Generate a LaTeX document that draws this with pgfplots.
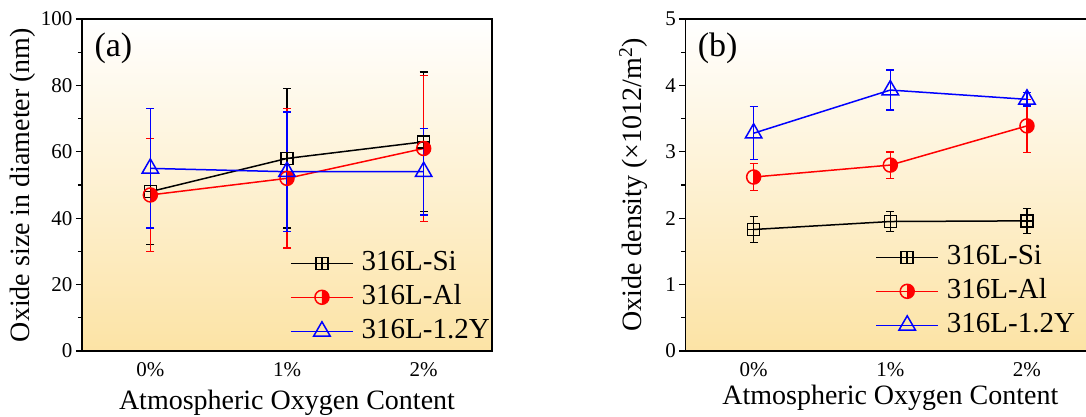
\documentclass[border=0pt]{standalone}
\usepackage{fontspec}
\setmainfont{Liberation Serif}
\usepackage{pgfplots}
\pgfplotsset{compat=1.18}
\definecolor{bgy}{RGB}{252,227,165}
\pgfdeclareplotmark{boxplus}{%
 \pgfpathrectangle{\pgfqpoint{-\pgfplotmarksize}{-\pgfplotmarksize}}{\pgfqpoint{2\pgfplotmarksize}{2\pgfplotmarksize}}%
 \pgfpathmoveto{\pgfqpoint{-\pgfplotmarksize}{0pt}}\pgfpathlineto{\pgfqpoint{\pgfplotmarksize}{0pt}}%
 \pgfpathmoveto{\pgfqpoint{0pt}{-\pgfplotmarksize}}\pgfpathlineto{\pgfqpoint{0pt}{\pgfplotmarksize}}%
 \pgfusepathqstroke}
\pgfdeclareplotmark{halfcirc}{%
 \pgfpathmoveto{\pgfqpoint{0pt}{\pgfplotmarksize}}%
 \pgfpatharc{90}{-90}{\pgfplotmarksize}%
 \pgfpathclose\pgfusepathqfill
 \pgfpathcircle{\pgfpointorigin}{\pgfplotmarksize}\pgfusepathqstroke}
\pgfplotsset{
 myax/.style={
  scale only axis, width=410pt, height=332pt,
  xmin=-0.5, xmax=2.5,
  xtick={0,1,2}, xticklabels={0\%,1\%,2\%},
  xtick pos=bottom, ytick pos=left,
  major x tick style={draw=none},
  tick align=outside,
  minor y tick num=1,
  major tick length=6pt, minor tick length=4pt,
  every tick/.style={line width=1.3pt, black},
  axis line style={line width=1.3pt},
  ticklabel style={font=\fontsize{21}{24}\selectfont},
  x tick label style={yshift=-2pt},
  /pgf/number format/assume math mode=true,
  label style={font=\fontsize{28}{32}\selectfont},
  axis background/.style={top color=white, bottom color=bgy},
  error bars/y dir=both, error bars/y explicit,
  error bars/error bar style={line width=1.4pt},
  error bars/error mark options={rotate=90, mark size=4pt, line width=1.4pt},
  legend cell align=left,
  legend image code/.code={\draw[mark repeat=2,mark phase=2] plot coordinates {(0pt,0pt) (31pt,0pt) (62pt,0pt)}; \path (70pt,0pt);},
  legend style={draw=none, fill=none, font=\fontsize{29}{32}\selectfont, row sep=8pt, nodes={inner sep=0pt, text height=20pt, text depth=6pt}},
 },
 si/.style={black, line width=1.5pt, mark=boxplus, mark size=6pt, mark options={solid, fill=none}},
 al/.style={red, line width=1.5pt, mark=halfcirc, mark size=7pt, mark options={solid, fill=red}},
 yy/.style={blue, line width=1.5pt, mark=triangle, mark size=9.5pt, mark options={solid, fill=none}},
}
\begin{document}
\begin{tikzpicture}
\path[use as bounding box] (0pt,0pt) rectangle (1086pt,417pt);
\begin{axis}[myax, at={(82pt,66pt)}, anchor=south west,
  ymin=0, ymax=100, ytick={0,20,40,60,80,100},
  xlabel={Atmospheric Oxygen Content},
  ylabel={Oxide size in diameter (nm)},
  xlabel style={at={(axis description cs:0.5,-0.157)}, anchor=center},
  ylabel style={at={(axis description cs:-0.144,0.5)}, anchor=center},
  legend style={at={(axis description cs:0.5,0.31)}, anchor=north west}]
\addplot[si] coordinates {(0,48) +- (0,16) (1,58) +- (0,21) (2,63) +- (0,21)};
\addlegendentry{316L-Si}
\addplot[al] coordinates {(0,47) +- (0,17) (1,52) +- (0,21) (2,61) +- (0,22)};
\addlegendentry{316L-Al}
\addplot[yy] coordinates {(0,55) +- (0,18) (1,54) +- (0,18) (2,54) +- (0,13)};
\addlegendentry{316L-1.2Y}
\node[anchor=west, font=\fontsize{34}{38}\selectfont, inner sep=0pt] at (axis description cs:0.03,0.913) {(a)};
\end{axis}
\begin{axis}[myax, at={(685.3pt,66pt)}, anchor=south west,
  ymin=0, ymax=5, ytick={0,1,2,3,4,5},
  xlabel={Atmospheric Oxygen Content},
  ylabel={Oxide density (×1012/m\textsuperscript{2})},
  xlabel style={at={(axis description cs:0.5,-0.1416)}, anchor=center},
  ylabel style={at={(axis description cs:-0.127,0.5)}, anchor=center},
  legend style={at={(axis description cs:0.456,0.328)}, anchor=north west}]
\addplot[si] coordinates {(0,1.83) +- (0,0.2) (1,1.95) +- (0,0.15) (2,1.96) +- (0,0.19)};
\addlegendentry{316L-Si}
\addplot[al] coordinates {(0,2.62) +- (0,0.2) (1,2.8) +- (0,0.2) (2,3.39) +- (0,0.4)};
\addlegendentry{316L-Al}
\addplot[yy] coordinates {(0,3.28) +- (0,0.4) (1,3.93) +- (0,0.3) (2,3.79) +- (0,0.1)};
\addlegendentry{316L-1.2Y}
\node[anchor=west, font=\fontsize{34}{38}\selectfont, inner sep=0pt] at (axis description cs:0.03,0.913) {(b)};
\end{axis}
\end{tikzpicture}
\end{document}
